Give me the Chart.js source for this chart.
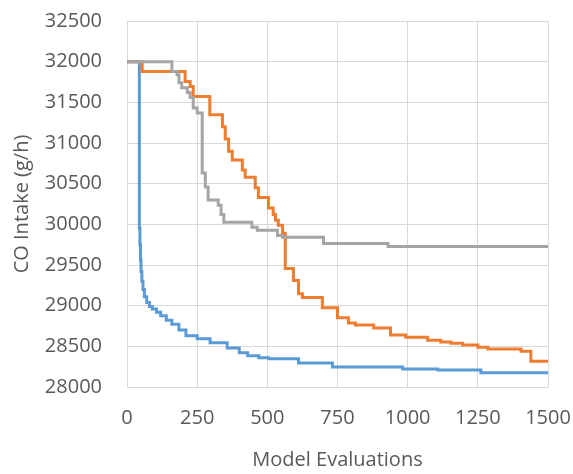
<!DOCTYPE html>
<html>
<head>
<meta charset="utf-8">
<script src="https://cdn.jsdelivr.net/npm/chart.js@4.4.1/dist/chart.umd.min.js"></script>
<style>
  html, body { margin: 0; padding: 0; background: #fff; }
  canvas { display: block; }
</style>
</head>
<body>
<canvas id="evalChart" width="573" height="474"></canvas>
<script>
// best value found so far vs. number of model evaluations
const blueX = [0, 44, 46, 48, 50, 53, 57, 62, 70, 80, 90, 105, 120, 140, 160, 185, 210, 250, 296, 357, 400, 430, 470, 505, 611, 732, 982, 1107, 1261, 1500];
const blueY = [32000, 29950, 29750, 29560, 29420, 29300, 29200, 29110, 29040, 28990, 28960, 28920, 28877, 28820, 28770, 28700, 28630, 28593, 28543, 28481, 28420, 28383, 28360, 28346, 28296, 28247, 28222, 28210, 28175, 28175];

const orangeX = [0, 54, 207, 225, 236, 295, 340, 350, 362, 375, 411, 421, 457, 468, 504, 521, 529, 539, 554, 564, 593, 611, 625, 696, 750, 789, 814, 879, 939, 993, 1071, 1118, 1154, 1196, 1250, 1286, 1404, 1439, 1500];
const orangeY = [32000, 31880, 31757, 31695, 31572, 31346, 31200, 31050, 30900, 30790, 30667, 30580, 30450, 30330, 30200, 30120, 30049, 29990, 29890, 29457, 29309, 29148, 29099, 28975, 28852, 28786, 28761, 28724, 28638, 28613, 28576, 28552, 28539, 28515, 28490, 28466, 28441, 28318, 28318];

const grayX = [0, 160, 178, 185, 195, 215, 225, 236, 250, 268, 279, 289, 325, 335, 345, 445, 464, 536, 554, 700, 930, 1500];
const grayY = [32000, 31880, 31840, 31740, 31680, 31620, 31560, 31430, 31370, 30630, 30460, 30300, 30235, 30120, 30025, 29963, 29926, 29864, 29840, 29765, 29728, 29728];

const xTicks = [0, 250, 500, 750, 1000, 1250, 1500];
const yTicks = [28000, 28500, 29000, 29500, 30000, 30500, 31000, 31500, 32000, 32500];

const xTitle = "Model Evaluations";
const yTitle = "CO Intake (g/h)";

function toPoints(xs, ys) {
  return xs.map((x, i) => ({ x: x, y: ys[i] }));
}

const textColor = "#595959";
const gridColor = "#D9D9D9";
const fontFamily = "'Open Sans', 'Noto Sans', sans-serif";

const ctx = document.getElementById("evalChart").getContext("2d");
const data = {
  datasets: [
    {
      label: "Series 1",
      data: toPoints(blueX, blueY),
      borderColor: "#5B9BD5",
      borderWidth: 3,
      stepped: "before",
      pointRadius: 0,
      fill: false,
      order: 3,
    },
    {
      label: "Series 2",
      data: toPoints(orangeX, orangeY),
      borderColor: "#ED7D31",
      borderWidth: 3,
      stepped: "before",
      pointRadius: 0,
      fill: false,
      order: 2,
    },
    {
      label: "Series 3",
      data: toPoints(grayX, grayY),
      borderColor: "#A5A5A5",
      borderWidth: 3,
      stepped: "before",
      pointRadius: 0,
      fill: false,
      order: 1,
    },
  ],
};

const options = {
  responsive: false,
  animation: false,
  devicePixelRatio: 1,
  layout: { padding: { left: 0, right: 25, top: 21, bottom: 0 } },
  plugins: {
    legend: { display: false },
    tooltip: { enabled: false },
  },
  scales: {
    x: {
      type: "linear",
      min: xTicks[0],
      max: xTicks[xTicks.length - 1],
      afterBuildTicks: (scale) => { scale.ticks = xTicks.map(v => ({ value: v })); },
      afterFit: (scale) => {
        scale.height = 87;
        scale.paddingLeft = 0;
        scale.paddingRight = 0;
      },
      ticks: {
        callback: (v) => String(v),
        color: textColor,
        font: { family: fontFamily, size: 20 },
        padding: 19,
        maxRotation: 0,
      },
      grid: { color: gridColor, lineWidth: 1, drawTicks: false },
      border: { color: gridColor, width: 1 },
      title: {
        display: true,
        text: xTitle,
        color: textColor,
        font: { family: fontFamily, size: 20 },
        padding: { top: 0, bottom: 2 },
      },
    },
    y: {
      type: "linear",
      min: yTicks[0],
      max: yTicks[yTicks.length - 1],
      afterBuildTicks: (scale) => { scale.ticks = yTicks.map(v => ({ value: v })); },
      afterFit: (scale) => {
        scale.width = 127;
        scale.paddingTop = 0;
        scale.paddingBottom = 0;
      },
      ticks: {
        callback: (v) => String(v),
        color: textColor,
        font: { family: fontFamily, size: 20 },
        padding: 25,
      },
      grid: { color: gridColor, lineWidth: 1, drawTicks: false },
      border: { color: gridColor, width: 1 },
      title: {
        display: true,
        text: yTitle,
        color: textColor,
        font: { family: fontFamily, size: 20 },
        padding: { top: 10, bottom: 0 },
      },
    },
  },
};

new Chart(ctx, { type: "line", data: data, options: options });
</script>
</body>
</html>
